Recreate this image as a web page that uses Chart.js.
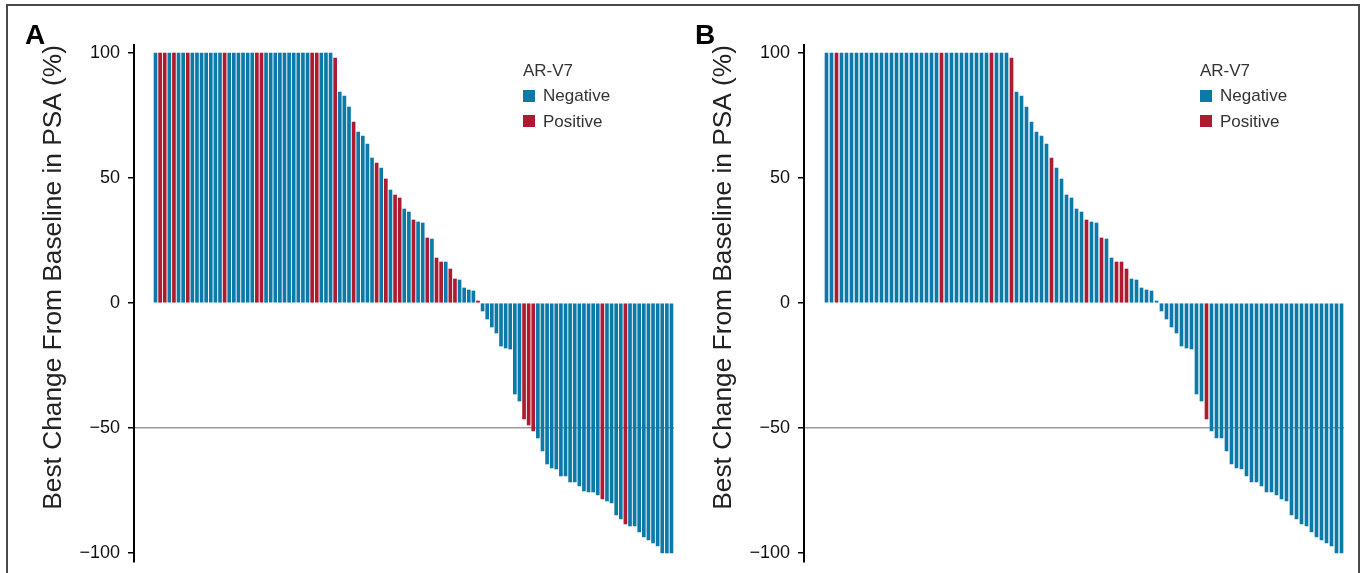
<!DOCTYPE html>
<html>
<head>
<meta charset="utf-8">
<script src="https://cdn.jsdelivr.net/npm/chart.js@4.4.1/dist/chart.umd.min.js"></script>
<style>
  body { margin: 0; width: 1363px; height: 573px; overflow: hidden; background: #fff; position: relative;
         font-family: "Liberation Sans", Arial, sans-serif; }
  .frame { position: absolute; left: 6px; top: 4px; width: 1354px; height: 640px; border: 2px solid #4a4a4a; box-sizing: border-box; }
  canvas { position: absolute; top: 0; }
  .tag { position: absolute; top: 21px; font: bold 28px/28px "Liberation Sans", Arial, sans-serif; color: #000; }
  .lg-title, .lg-item { position: absolute; font: 17px/17px "Liberation Sans", Arial, sans-serif; color: #333; white-space: nowrap; }
  .lg-box { position: absolute; width: 12px; height: 12px; }
</style>
</head>
<body>
<div class="frame"></div>
<canvas id="chartA" width="680" height="600" style="left:0px"></canvas>
<canvas id="chartB" width="680" height="600" style="left:670px"></canvas>
<div class="tag" style="left:25px">A</div>
<div class="tag" style="left:695px">B</div>
<div id="legends"></div>
<script>
// axis
const yTicks = [-100, -50, 0, 50, 100];
const yTickLabels = ['\u2212100', '\u221250', '0', '50', '100'];
const refLine = -50;
const yTitle = 'Best Change From Baseline in PSA (%)';

// legend
const legendTitle = 'AR-V7';
const statusNames = ['Negative', 'Positive'];
const statusColors = ['#0b7aa9', '#ae1a2f'];

// panel A: best PSA change per patient, sorted
const valuesA = [
  100, 100, 100, 100, 100, 100, 100, 100, 100, 100,
  100, 100, 100, 100, 100, 100, 100, 100, 100, 100,
  100, 100, 100, 100, 100, 100, 100, 100, 100, 100,
  100, 100, 100, 100, 100, 100, 100, 100, 100, 98,
  84.4, 82.8, 78.4, 72.4, 68.4, 66.8, 63.6, 58, 56, 54,
  49.6, 45.2, 43.2, 42, 37.6, 36.4, 33.2, 32.4, 32, 26,
  25.6, 18, 16.4, 16.4, 13.6, 9.6, 9.2, 6, 5.2, 4.8,
  0.8, -3.2, -6.4, -9.6, -12, -17.2, -18, -18.4, -36.4, -39.2,
  -46.4, -48.8, -51.2, -54, -59.2, -64.4, -66, -66.4, -69.2, -69.2,
  -71.6, -71.6, -73.2, -75.2, -75.6, -75.6, -76.8, -78.4, -79.2, -80,
  -84.8, -86.4, -88.4, -89.2, -89.2, -91.6, -93.6, -94.8, -96, -97.2,
  -100, -100, -100
];
// AR-V7 positive patients (1-based position)
const positivesA = [2, 3, 5, 8, 16, 23, 24, 35, 36, 40, 44, 49, 51, 53, 54, 57, 60, 62, 63, 65, 66, 71, 81, 82, 83, 98, 103];

// panel B
const valuesB = [
  100, 100, 100, 100, 100, 100, 100, 100, 100, 100,
  100, 100, 100, 100, 100, 100, 100, 100, 100, 100,
  100, 100, 100, 100, 100, 100, 100, 100, 100, 100,
  100, 100, 100, 100, 100, 100, 100, 98, 84.4, 82.8,
  78.4, 72.4, 68.4, 66.8, 63.6, 58, 54, 49.6, 43.2, 42,
  37.6, 36.4, 33.2, 32.4, 32, 26, 25.6, 18, 16.4, 16.4,
  13.6, 9.6, 9.2, 6, 5.2, 4.8, 0.8, -3.2, -6.4, -9.6,
  -12, -17.2, -18, -18.4, -36.4, -39.2, -46.4, -51.2, -54, -54,
  -59.2, -64.4, -66, -66.4, -69.2, -71.6, -71.6, -73.2, -75.6, -75.6,
  -76.8, -78.4, -79.2, -84.8, -86.4, -88.4, -89.2, -91.6, -93.6, -94.8,
  -96, -97.2, -100, -100
];
const positivesB = [3, 24, 34, 38, 46, 53, 56, 59, 60, 61, 77];

function makeChart(id, values, positives, xMin, xMax) {
  const colors = values.map((v, i) => statusColors[positives.includes(i + 1) ? 1 : 0]);
  return new Chart(document.getElementById(id), {
    type: 'bar',
    data: {
      datasets: [{
        data: values.map((v, i) => ({ x: i + 1, y: v })),
        backgroundColor: colors,
        barThickness: 3
      }]
    },
    options: {
      responsive: false,
      animation: false,
      layout: { padding: { top: 45, bottom: 38, left: 0, right: 6 } },
      plugins: { legend: { display: false }, tooltip: { enabled: false } },
      scales: {
        x: { type: 'linear', offset: false, min: xMin, max: xMax, display: false },
        y: {
          min: -103.6,
          max: 103.2,
          afterBuildTicks: s => { s.ticks = yTicks.map(v => ({ value: v })); },
          afterFit: s => { s.width = 134; },
          border: { display: true, color: '#000', width: 2 },
          grid: {
            drawOnChartArea: true,
            color: c => (c.tick && c.tick.value === refLine) ? '#9c9c9c' : 'rgba(0,0,0,0)',
            lineWidth: 1.5,
            tickColor: '#000',
            tickWidth: 1.5,
            tickLength: 6
          },
          ticks: {
            padding: 8,
            color: '#111',
            font: { family: '"Liberation Sans", Arial, sans-serif', size: 18 },
            callback: v => yTickLabels[yTicks.indexOf(v)]
          },
          title: {
            display: true,
            text: yTitle,
            align: 'end',
            color: '#222',
            font: { family: '"Liberation Sans", Arial, sans-serif', size: 26.3, lineHeight: 1 },
            padding: { top: 41, bottom: 0 }
          }
        }
      }
    }
  });
}

makeChart('chartA', valuesA, positivesA, -3.67, 113.55);
makeChart('chartB', valuesB, positivesB, -3.5, 104.5);

// legends (HTML)
const legendX = [523, 1200];
const box = document.getElementById('legends');
legendX.forEach(x => {
  let html = '<div class="lg-title" style="left:' + x + 'px;top:62px">' + legendTitle + '</div>';
  statusNames.forEach((name, k) => {
    const top = 89.5 + k * 25.5;
    html += '<div class="lg-box" style="left:' + x + 'px;top:' + top + 'px;background:' + statusColors[k] + '"></div>';
    html += '<div class="lg-item" style="left:' + (x + 20) + 'px;top:' + (top - 2.5) + 'px">' + name + '</div>';
  });
  box.insertAdjacentHTML('beforeend', html);
});
</script>
</body>
</html>
